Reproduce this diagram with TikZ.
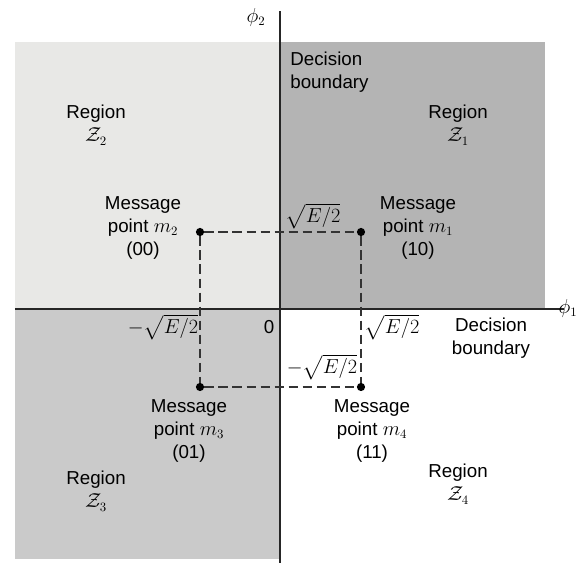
\documentclass[tikz,border=0pt]{standalone}
\usepackage{fontspec}
\setmainfont{Liberation Sans}
\usepackage{amsmath}
\usetikzlibrary{
    positioning,
    calc
}
\definecolor{zoneLight}{RGB}{232,232,230}
\definecolor{zoneDark}{RGB}{180,180,180}
\definecolor{zoneMid}{RGB}{202,202,202}
\tikzset{
    % --- Decision region (shaded quadrant) ---
    zone/.style = {
        draw=none
    },
    % --- Coordinate axis (also decision boundary) ---
    axis line/.style = {
        line width=1.6pt, black!85
    },
    % --- Message point (signal dot) ---
    msg point/.style = {
        circle, fill=black,
        minimum size=7pt, inner sep=0pt
    },
    % --- Dashed projection line between message points ---
    proj line/.style = {
        dashed, line width=1.2pt, black!80,
        dash pattern=on 8pt off 4pt
    },
    % --- Message point label ---
    msg label/.style = {
        align=center, inner sep=1pt
    },
    % --- Region name ---
    region label/.style = {
        align=center, inner sep=1pt
    },
    % --- Axis tick value ---
    tick label/.style = {
        inner sep=1pt
    }
}
\begin{document}
\begin{tikzpicture}[
    x=0.03cm, y=0.03cm,
    font=\fontsize{16}{20}\selectfont
]
\useasboundingbox (-280,-254) rectangle (297,309);

% ---------------------------------------------------------
% Decision regions
% ---------------------------------------------------------
\fill[zone, zoneLight] (-265,0) rectangle (0,267);
\fill[zone, zoneDark]  (0,0) rectangle (265,267);
\fill[zone, zoneMid]   (-265,-250) rectangle (0,0);

% ---------------------------------------------------------
% Axes
% ---------------------------------------------------------
\coordinate (O) at (0,0);
\coordinate (xStart) at (-265,0);
\coordinate (xEnd) at (284,0);
\coordinate (yStart) at (0,-256);
\coordinate (yEnd) at (0,298);
\draw[axis line] (xStart) -- (xEnd);
\draw[axis line] (yStart) -- (yEnd);
\node[inner sep=1pt] (phi1) at (288,1) {$\phi_1$};
\node (phi2) at (-24,292) {$\phi_2$};
\node[tick label] (origin) at (-11,-18) {0};

% ---------------------------------------------------------
% Message points
% ---------------------------------------------------------
\node[msg point] (m1) at (81,77) {};
\node[msg point] (m2) at (-80,77) {};
\node[msg point] (m3) at (-80,-78) {};
\node[msg point] (m4) at (81,-78) {};

\draw[proj line] (m2) -- (m1);
\draw[proj line] (m3) -- (m4);
\draw[proj line] (m2) -- (m3);
\draw[proj line] (m1) -- (m4);

% ---------------------------------------------------------
% Point labels
% ---------------------------------------------------------
\node[msg label] (m1lab) at (138,81) {Message\\point $m_1$\\(10)};
\node[msg label] (m2lab) at (-137,81) {Message\\point $m_2$\\(00)};
\node[msg label] (m3lab) at (-91,-122) {Message\\point $m_3$\\(01)};
\node[msg label] (m4lab) at (92,-122) {Message\\point $m_4$\\(11)};

% Coordinate values
\node[tick label] (tTop) at (33,93) {$\sqrt{E/2}$};
\node[tick label] (tLeft) at (-117,-18) {$-\sqrt{E/2}$};
\node[tick label] (tRight) at (112,-18) {$\sqrt{E/2}$};
\node[tick label] (tBottom) at (42,-58) {$-\sqrt{E/2}$};

% ---------------------------------------------------------
% Region names and boundaries
% ---------------------------------------------------------
\node[region label] (Z1) at (178,184) {Region\\$\mathcal{Z}_1$};
\node[region label] (Z2) at (-184,184) {Region\\$\mathcal{Z}_2$};
\node[region label] (Z3) at (-184,-182) {Region\\$\mathcal{Z}_3$};
\node[region label] (Z4) at (178,-175) {Region\\$\mathcal{Z}_4$};

\node[region label, align=left, anchor=west] (bndTop) at (9,237) {Decision\\boundary};
\node[region label] (bndRight) at (211,-29) {Decision\\boundary};

\end{tikzpicture}
\end{document}
